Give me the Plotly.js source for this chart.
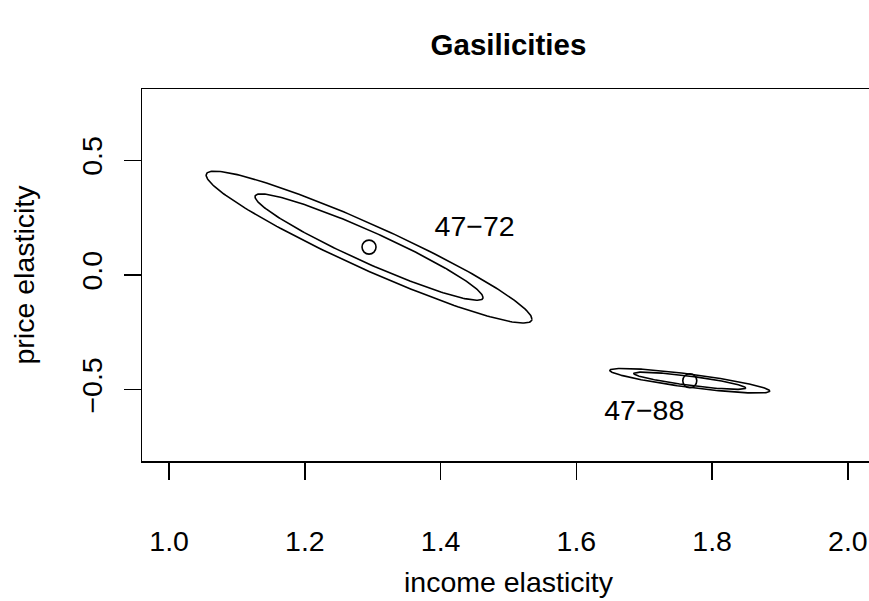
<!DOCTYPE html>
<html>
<head>
<meta charset="utf-8">
<script src="https://cdn.plot.ly/plotly-3.0.1.min.js"></script>
<style>
html, body { margin: 0; padding: 0; overflow: hidden; background: #fff; }
#chart { width: 880px; height: 601px; }
</style>
</head>
<body>
<div id="chart"></div>
<script>
// Estimates (point estimates) for the two sample periods
const periods = ["47\u221272", "47\u221288"];
const incomeElasticity = [1.2945, 1.7671];
const priceElasticity = [0.1216, -0.4611];

// Confidence-ellipse geometry (data units)
const halfWidthIncome = [0.2400, 0.1179];       // half x-extent of outer ellipse
const halfHeightPrice = [0.3312, 0.0537];       // half y-extent of outer ellipse
const priceOffsetAtIncomeMax = [-0.3138, -0.0452]; // y offset where x is largest
const levelScales = [1.0, 0.70];                 // outer and inner confidence levels

// Label positions
const labelIncome = [1.45, 1.70];
const labelPrice = [0.20, -0.60];

// Axis ticks
const xTicks = [1.0, 1.2, 1.4, 1.6, 1.8, 2.0];
const yTicks = [-0.5, 0.0, 0.5];

const FONT = "Liberation Sans, Arial, Helvetica, sans-serif";
const FS = 28.5;

function ellipsePoints(i, s) {
  const xs = [], ys = [];
  const a = halfWidthIncome[i] * s;
  const d = priceOffsetAtIncomeMax[i] * s;
  const b = halfHeightPrice[i] * s;
  const e = Math.sqrt(Math.max(b * b - d * d, 0));
  const n = 240;
  for (let k = 0; k <= n; k++) {
    const t = 2 * Math.PI * k / n;
    xs.push(incomeElasticity[i] + a * Math.cos(t));
    ys.push(priceElasticity[i] + d * Math.cos(t) + e * Math.sin(t));
  }
  return {x: xs, y: ys};
}

const traces = [];
for (let i = 0; i < periods.length; i++) {
  for (const s of levelScales) {
    const p = ellipsePoints(i, s);
    traces.push({
      type: "scatter", mode: "lines", x: p.x, y: p.y,
      line: {color: "#000", width: 1.6}, hoverinfo: "skip", showlegend: false
    });
  }
}
traces.push({
  type: "scatter", mode: "markers",
  x: incomeElasticity, y: priceElasticity, text: periods,
  marker: {symbol: "circle-open", size: 14, color: "#000", line: {width: 1.6, color: "#000"}},
  showlegend: false
});
traces.push({
  type: "scatter", mode: "text",
  x: labelIncome, y: labelPrice, text: periods,
  textposition: "middle center",
  textfont: {family: FONT, size: FS, color: "#000"},
  showlegend: false, hoverinfo: "skip"
});

const axisCommon = {
  showgrid: false, zeroline: false,
  showline: true, linecolor: "#000", linewidth: 1.5, mirror: true,
  ticks: "outside", ticklen: 17, tickwidth: 1.5, tickcolor: "#000",
  tickfont: {family: FONT, size: FS, color: "#000"},
  tickformat: ".1f", tickmode: "array"
};

const layout = {
  width: 880, height: 601,
  margin: {l: 142, r: 5, t: 89, b: 140},
  paper_bgcolor: "#fff", plot_bgcolor: "#fff",
  title: {
    text: "<b>Gasilicities</b>",
    font: {family: FONT, size: 29.5, color: "#000"},
    x: 0.5, xref: "paper", y: 1 - 45 / 601, yref: "container", yanchor: "middle"
  },
  xaxis: Object.assign({}, axisCommon, {
    range: [0.96, 2.04], tickvals: xTicks,
    ticklabelstandoff: 37,
    title: {text: "income elasticity", font: {family: FONT, size: FS, color: "#000"}, standoff: 16}
  }),
  yaxis: Object.assign({}, axisCommon, {
    range: [-0.811, 0.811], tickvals: yTicks, tickangle: -90,
    ticklabelstandoff: 10,
    title: {text: "price elasticity", font: {family: FONT, size: FS, color: "#000"}, standoff: 33}
  }),
  showlegend: false
};

Plotly.newPlot("chart", traces, layout, {displayModeBar: false, staticPlot: true});
</script>
</body>
</html>
